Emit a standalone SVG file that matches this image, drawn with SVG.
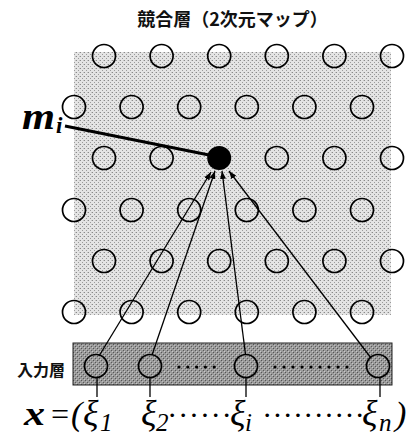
<svg xmlns="http://www.w3.org/2000/svg" width="409" height="436" viewBox="0 0 409 436">
<defs>
<pattern id="lt" width="4" height="4" patternUnits="userSpaceOnUse"><rect width="4" height="4" fill="#e4e4e4"/><rect x="0" y="0" width="1" height="1" fill="#8a8a8a"/><rect x="2" y="2" width="1" height="1" fill="#9a9a9a"/><rect x="3" y="0" width="1" height="1" fill="#c4c4c4"/></pattern>
<pattern id="dk" width="4" height="4" patternUnits="userSpaceOnUse"><rect width="4" height="4" fill="#9a9a9a"/><rect x="1" y="0" width="1" height="1" fill="#555"/><rect x="3" y="2" width="1" height="1" fill="#5a5a5a"/><rect x="0" y="3" width="1" height="1" fill="#c8c8c8"/><rect x="2" y="1" width="1" height="1" fill="#bdbdbd"/></pattern>
<marker id="ah" viewBox="0 0 8 6" refX="8" refY="3" markerWidth="8" markerHeight="6" markerUnits="userSpaceOnUse" orient="auto"><path d="M0,0 L8,3 L0,6 Z" fill="#000"/></marker>
<style>
.n{fill:none;stroke:#000;stroke-width:1.7}
.lab{font-family:"Noto Sans CJK JP","Noto Sans",sans-serif;font-weight:bold;fill:#111}
.m{font-family:"Liberation Serif",serif;font-style:italic;fill:#000}
.c{stroke:#000;stroke-width:1.3;fill:none}
</style>
</defs>
<rect x="74" y="52" width="317" height="263" fill="url(#lt)"/>
<rect x="73" y="343" width="319" height="42" fill="url(#dk)" stroke="#222" stroke-width="1"/>
<text class="lab" x="232.5" y="26" font-size="18" text-anchor="middle">競合層（2次元マップ）</text>
<text class="lab" x="17" y="376" font-size="16">入力層</text>
<g id="grid">
<g id="r1"><circle id="n1_1" class="n" cx="104" cy="56" r="11.5"/><circle id="n1_2" class="n" cx="161.6" cy="56" r="11.5"/><circle id="n1_3" class="n" cx="219.2" cy="56" r="11.5"/><circle id="n1_4" class="n" cx="276.8" cy="56" r="11.5"/><circle id="n1_5" class="n" cx="334.4" cy="56" r="11.5"/><circle id="n1_6" class="n" cx="392" cy="56" r="11.5"/></g>
<g id="r2"><circle id="n2_1" class="n" cx="74" cy="107" r="11.5"/><circle id="n2_2" class="n" cx="131.6" cy="107" r="11.5"/><circle id="n2_3" class="n" cx="189.2" cy="107" r="11.5"/><circle id="n2_4" class="n" cx="246.8" cy="107" r="11.5"/><circle id="n2_5" class="n" cx="304.4" cy="107" r="11.5"/><circle id="n2_6" class="n" cx="362" cy="107" r="11.5"/></g>
<g id="r3"><circle id="n3_1" class="n" cx="104" cy="158" r="11.5"/><circle id="n3_2" class="n" cx="161.6" cy="158" r="11.5"/><circle id="n3_4" class="n" cx="276.8" cy="158" r="11.5"/><circle id="n3_5" class="n" cx="334.4" cy="158" r="11.5"/><circle id="n3_6" class="n" cx="392" cy="158" r="11.5"/></g>
<g id="r4"><circle id="n4_1" class="n" cx="74" cy="210" r="11.5"/><circle id="n4_2" class="n" cx="131.6" cy="210" r="11.5"/><circle id="n4_3" class="n" cx="189.2" cy="210" r="11.5"/><circle id="n4_4" class="n" cx="246.8" cy="210" r="11.5"/><circle id="n4_5" class="n" cx="304.4" cy="210" r="11.5"/><circle id="n4_6" class="n" cx="362" cy="210" r="11.5"/></g>
<g id="r5"><circle id="n5_1" class="n" cx="104" cy="261" r="11.5"/><circle id="n5_2" class="n" cx="161.6" cy="261" r="11.5"/><circle id="n5_3" class="n" cx="219.2" cy="261" r="11.5"/><circle id="n5_4" class="n" cx="276.8" cy="261" r="11.5"/><circle id="n5_5" class="n" cx="334.4" cy="261" r="11.5"/><circle id="n5_6" class="n" cx="392" cy="261" r="11.5"/></g>
<g id="r6"><circle id="n6_1" class="n" cx="74" cy="312" r="11.5"/><circle id="n6_2" class="n" cx="131.6" cy="312" r="11.5"/><circle id="n6_3" class="n" cx="189.2" cy="312" r="11.5"/><circle id="n6_4" class="n" cx="246.8" cy="312" r="11.5"/><circle id="n6_5" class="n" cx="304.4" cy="312" r="11.5"/><circle id="n6_6" class="n" cx="362" cy="312" r="11.5"/></g>
</g>
<g id="winner"><circle cx="219.2" cy="158" r="12" fill="#000"/></g>
<g id="inputs">
<circle id="in1" class="n" cx="96" cy="366" r="11.5"/>
<circle id="in2" class="n" cx="150" cy="366" r="11.5"/>
<circle id="in_i" class="n" cx="246" cy="366" r="11.5"/>
<circle id="in_n" class="n" cx="378" cy="366" r="11.5"/>
<line x1="179" y1="367" x2="223" y2="367" stroke="#000" stroke-width="3.2" stroke-linecap="round" stroke-dasharray="0 8.8"/>
<line x1="275" y1="367" x2="356" y2="367" stroke="#000" stroke-width="3.2" stroke-linecap="round" stroke-dasharray="0 9"/>
</g>
<g id="connectors">
<line class="c" x1="99" y1="356" x2="211" y2="172" marker-end="url(#ah)"/>
<line class="c" x1="152" y1="355" x2="215" y2="171" marker-end="url(#ah)"/>
<line class="c" x1="245.5" y1="354.5" x2="222" y2="171" marker-end="url(#ah)"/>
<line class="c" x1="371" y1="358" x2="229" y2="171" marker-end="url(#ah)"/>
<line x1="65" y1="126" x2="214" y2="156" stroke="#000" stroke-width="3.2"/>
<line class="c" x1="97" y1="377.5" x2="97" y2="397"/>
<line class="c" x1="150" y1="377.5" x2="150" y2="397"/>
<line class="c" x1="246" y1="377.5" x2="246" y2="397"/>
<line class="c" x1="380" y1="377.5" x2="380" y2="397"/>
</g>
<g id="labels">
<text class="m" font-weight="bold" x="22" y="129" font-size="38" textLength="33" lengthAdjust="spacingAndGlyphs">m</text>
<text class="m" font-weight="bold" x="56" y="133" font-size="23">i</text>
<text class="m" font-weight="bold" x="24" y="425" font-size="34" textLength="21" lengthAdjust="spacingAndGlyphs">x</text>
<text class="m" font-style="normal" x="49" y="425" font-size="32">=</text>
<text class="m" font-style="normal" x="71" y="425" font-size="34">(</text>
<text class="m" x="83" y="425" font-size="36">ξ</text>
<text class="m" x="100" y="431" font-size="25">1</text>
<text class="m" x="141" y="425" font-size="36">ξ</text>
<text class="m" x="156" y="431" font-size="25">2</text>
<text class="m" font-style="normal" x="168" y="425" font-size="30" textLength="62" lengthAdjust="spacing">······</text>
<text class="m" x="230" y="425" font-size="36">ξ</text>
<text class="m" x="245" y="431" font-size="25">i</text>
<text class="m" font-style="normal" x="263" y="425" font-size="30" textLength="100" lengthAdjust="spacing">··········</text>
<text class="m" x="362" y="425" font-size="36">ξ</text>
<text class="m" x="379" y="431" font-size="25">n</text>
<text class="m" font-style="normal" x="395" y="425" font-size="34">)</text>
</g>
</svg>
